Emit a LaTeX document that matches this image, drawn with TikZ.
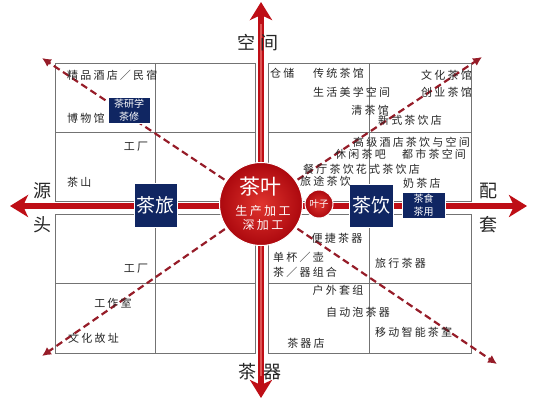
\documentclass[tikz,border=0pt]{standalone}
\usepackage{fontspec}
\setmainfont{Noto Sans CJK SC}
\newfontfamily\widecjk[LetterSpace=20]{Noto Sans CJK SC}
\usetikzlibrary{positioning,arrows.meta}
\definecolor{axisred}{RGB}{190,14,22}
\definecolor{axisglow}{RGB}{222,86,86}
\definecolor{dashred}{RGB}{150,28,40}
\definecolor{navyblue}{RGB}{16,38,98}
\definecolor{ballinner}{RGB}{224,52,46}
\definecolor{ballouter}{RGB}{172,8,14}

\begin{document}
\begin{tikzpicture}[x=1pt,y=-1pt,
        gridline/.style={draw=black!55, line width=0.8pt},
        axisline/.style={draw=axisred, line width=6pt,
            {Stealth[length=18pt,width=22pt,inset=5pt]}-{Stealth[length=18pt,width=22pt,inset=5pt]}},
        glowline/.style={draw=axisglow, line width=1.2pt, shorten <=22pt, shorten >=22pt},
        diagline/.style={draw=dashred, line width=2.2pt, dash pattern=on 7pt off 4pt,
            -{Latex[length=9pt,width=9pt]}},
        hubball/.style={circle, draw=white, line width=1pt, inner color=ballinner, outer color=ballouter,
            text=white, inner sep=0pt},
        bluebox/.style={fill=navyblue, draw=white, line width=0.6pt, text=white, inner sep=0pt, align=center},
        bigtext/.style={font=\fontsize{19}{21}\selectfont},
        boxtext/.style={font=\fontsize{10}{12.5}\selectfont},
        note/.style={font=\widecjk\fontsize{11}{13}\selectfont, text=black!85, inner sep=0pt},
        axistext/.style={font=\fontsize{18}{20}\selectfont, text=black!85, inner sep=0pt}]
        \fill[white] (0,0) rectangle (537,400);
        \useasboundingbox (0,0) rectangle (537,400);
        % grid of the four quadrants
        \draw[gridline] (55,63) rectangle (255,201);
        \draw[gridline] (55,214) rectangle (255,353);
        \draw[gridline] (155,63) -- (155,201) (155,214) -- (155,353);
        \draw[gridline] (55,132) -- (255,132) (55,283) -- (255,283);
        \draw[gridline] (268,63) rectangle (471,201);
        \draw[gridline] (268,214) rectangle (471,353);
        \draw[gridline] (369,63) -- (369,201) (369,214) -- (369,353);
        \draw[gridline] (268,132) -- (471,132) (268,283) -- (471,283);
        % axis ends and diagonal ends
        \coordinate (hub) at (261,204);
        \coordinate (north) at (261,2);
        \coordinate (south) at (261,398);
        \coordinate (west) at (10,206);
        \coordinate (east) at (527,206);
        \coordinate (tipnw) at (42,58);
        \coordinate (tipne) at (482,57);
        \coordinate (tipsw) at (42,356);
        \coordinate (tipse) at (497,364);
        \draw[diagline] (hub) -- (tipnw);
        \draw[diagline] (hub) -- (tipne);
        \draw[diagline] (hub) -- (tipsw);
        \draw[diagline] (hub) -- (tipse);
        \draw[axisline] (south) -- (north);
        \draw[axisline] (west) -- (east);
        \draw[glowline] (south) -- (north);
        % axis labels
        \node[axistext] (space) at (258,43) {空\hspace{6pt}间};
        \node[axistext] (ware) at (260,372) {茶\hspace{7pt}器};
        \node[axistext] (yuan) at (42,191) {源};
        \node[axistext] (tou) [below=17pt of yuan] {头};
        \node[axistext] (pei) at (488,191) {配};
        \node[axistext] (tao) [below=17pt of pei] {套};
        % centre and the boxes on the axis
        \node[hubball, minimum size=83pt] (tea) at (hub) {};
        \node[text=white, inner sep=0pt, font=\fontsize{21}{23}\selectfont] (teaname) at (260,187) {茶叶};
        \node[text=white, inner sep=0pt, font=\widecjk\fontsize{12}{14}\selectfont] (process) at (263,211) {生产加工};
        \node[text=white, inner sep=0pt, font=\widecjk\fontsize{12}{14}\selectfont] (deep) [below=3pt of process] {深加工};
        \node[hubball, minimum size=28pt, font=\fontsize{9.5}{11}\selectfont] (leaf) at (319,204) {叶子};
        \node[bluebox, bigtext, minimum width=43pt, minimum height=44pt] (travel) at (155.5,205) {茶旅};
        \node[bluebox, bigtext, minimum width=44pt, minimum height=43pt] (drink) at (371,205.5) {茶饮};
        \node[bluebox, boxtext, minimum width=43pt, minimum height=26pt] (foodware) at (423.5,205) {茶食\\茶用};
        \node[bluebox, boxtext, minimum width=42pt, minimum height=26pt] (study) at (129,110) {茶研学\\茶修};
        % left quadrants
        \node[note, anchor=west] (hotel) at (67,75) {精品酒店／民宿};
        \node[note, anchor=west] (museum) at (67,118) {博物馆};
        \node[note] (factoryup) at (136,147) {工厂};
        \node[note, anchor=west] (hill) at (67,182) {茶山};
        \node[note] (factorydown) at (136,269) {工厂};
        \node[note] (studio) at (113,303) {工作室};
        \node[note, anchor=west] (ruins) at (68,338) {文化故址};
        % right quadrants, upper
        \node[note, anchor=west] (storage) at (270,73) {仓储};
        \node[note, anchor=west] (classic) at (313,73) {传统茶馆};
        \node[note, anchor=west] (lifestyle) at (313,92) {生活美学空间};
        \node[note, anchor=east] (plain) at (389,110) {清茶馆};
        \node[note, anchor=east] (culture) at (472,75) {文化茶馆};
        \node[note, anchor=east] (startup) at (472,92) {创业茶馆};
        \node[note] (newstyle) at (410,120) {新式茶饮店};
        \node[note, anchor=east] (luxury) at (470,142) {高级酒店茶饮与空间};
        \node[note, anchor=west] (leisure) at (335,154) {休闲茶吧};
        \node[note, anchor=west] (urban) at (402,154) {都市茶空间};
        \node[note, anchor=west] (dining) at (303,169) {餐厅茶饮花式茶饮店};
        \node[note, anchor=west] (journey) at (300,181) {旅途茶饮};
        \node[note, anchor=west] (milktea) at (403,183) {奶茶店};
        % right quadrants, lower
        \node[note] (handy) at (337,238) {便捷茶器};
        \node[note, anchor=west] (single) at (273,257) {单杯／壶};
        \node[note, anchor=west] (combo) at (273,272) {茶／器组合};
        \node[note, anchor=west] (tripware) at (375,263) {旅行茶器};
        \node[note] (outdoor) at (338,290) {户外套组};
        \node[note] (brewer) at (358,312) {自动泡茶器};
        \node[note, anchor=west] (mobile) at (375,332) {移动智能茶室};
        \node[note] (shop) at (306,343) {茶器店};
\end{tikzpicture}
\end{document}
